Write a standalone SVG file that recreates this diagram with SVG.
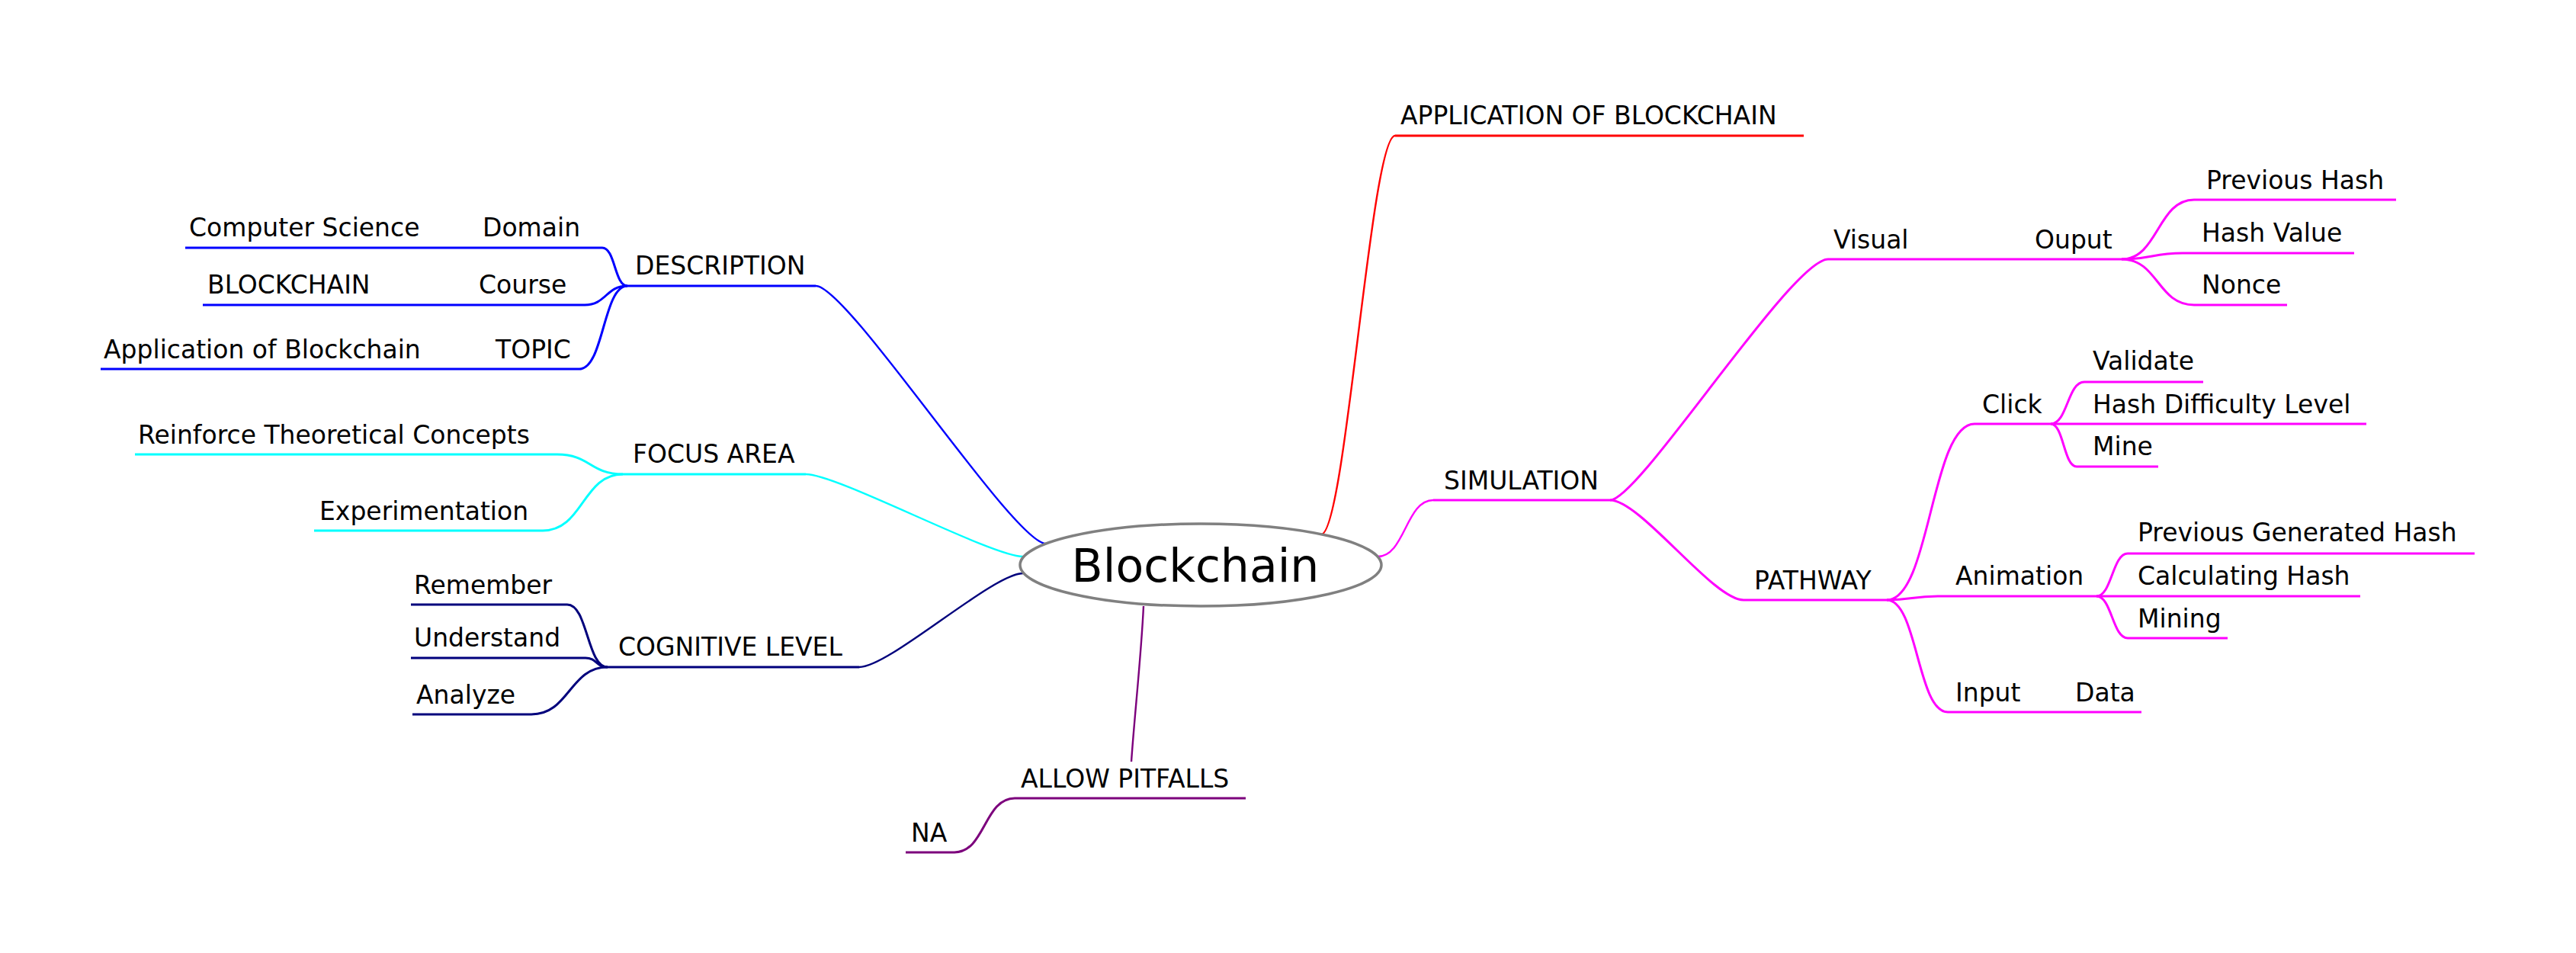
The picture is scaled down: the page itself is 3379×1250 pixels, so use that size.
<svg xmlns="http://www.w3.org/2000/svg" width="3379" height="1250" viewBox="0 0 3379 1250">
<style>
text{font-family:"DejaVu Sans","Noto Sans",sans-serif;font-size:33px;fill:#000}
.root{font-size:60px}
path{fill:none;stroke-linecap:butt}
.u{stroke-width:3}
.c{stroke-width:3}
.r{stroke-width:2.4}
.blue{stroke:#0000ff}
.cyan{stroke:#00ffff}
.navy{stroke:#00007c}
.purple{stroke:#7c007c}
.red{stroke:#ff0000}
.mag{stroke:#ff00ff}
</style>
<rect width="3379" height="1250" fill="#fff"/>
<g id="connectors">
<path class="r blue" d="M1070,375 C1112,375 1330,713 1372,713"/>
<path class="r cyan" d="M1057,622 C1099,622 1300,730 1342,730"/>
<path class="r navy" d="M1127,875 C1167,875 1302,752 1342,752"/>
<path class="r purple" stroke-width="2" d="M1500,795 C1497,860 1488,940 1484,999"/>
<path class="r red" d="M1733,701 C1765,701 1798,178 1830,178"/>
<path class="r mag" d="M1807,730 C1843,730 1844,656 1880,656"/>
<path class="c blue" d="M790,325 C807,325 806,375 823,375"/>
<path class="c blue" d="M767,400 C795,400 795,375 823,375"/>
<path class="c blue" d="M760,484 C792,484 791,375 823,375"/>
<path class="c cyan" d="M731,596 C774,596 774,622 817,622"/>
<path class="c cyan" d="M712,696 C765,696 764,622 817,622"/>
<path class="c navy" d="M744,793 C771,793 770,875 797,875"/>
<path class="c navy" d="M768,863 C783,863 782,875 797,875"/>
<path class="c navy" d="M697,937 C747,937 747,875 797,875"/>
<path class="c purple" d="M1252,1118 C1292,1118 1291,1047 1331,1047"/>
<path class="c mag" d="M2112,656 C2150,656 2350,340 2398,340"/>
<path class="c mag" d="M2112,656 C2152,656 2247,787 2287,787"/>
<path class="c mag" d="M2783,340 C2831,340 2830,262 2878,262"/>
<path class="c mag" d="M2783,340 C2823,340 2823,332 2863,332"/>
<path class="c mag" d="M2783,340 C2831,340 2830,400 2878,400"/>
<path class="c mag" d="M2475,787 C2532,787 2533,556 2590,556"/>
<path class="c mag" d="M2690,556 C2712,556 2712,501 2734,501"/>
<path class="c mag" d="M2690,556 C2707,556 2707,612 2724,612"/>
<path class="c mag" d="M2475,787 C2508,787 2508,782 2542,782"/>
<path class="c mag" d="M2750,782 C2770,782 2771,726 2791,726"/>
<path class="c mag" d="M2750,782 C2770,782 2771,837 2791,837"/>
<path class="c mag" d="M2475,787 C2515,787 2515,934 2555,934"/>
</g>
<g id="root">
<ellipse cx="1575" cy="741" rx="237" ry="54" fill="#fff" stroke="#808080" stroke-width="3.5"/>
<text class="root" x="1568" y="763" text-anchor="middle">Blockchain</text>
</g>
<g id="description"><path class="u blue" d="M823,375 H1070"/><text x="833" y="360">DESCRIPTION</text></g>
<g id="domain"><path class="u blue" d="M620,325 H790"/><text x="633" y="310">Domain</text></g>
<g id="computer-science"><path class="u blue" d="M243,325 H620"/><text x="248" y="310">Computer Science</text></g>
<g id="course"><path class="u blue" d="M615,400 H767"/><text x="628" y="385">Course</text></g>
<g id="blockchain-course"><path class="u blue" d="M266,400 H615"/><text x="272" y="385">BLOCKCHAIN</text></g>
<g id="topic"><path class="u blue" d="M640,484 H760"/><text x="650" y="470">TOPIC</text></g>
<g id="application-topic"><path class="u blue" d="M132,484 H640"/><text x="136" y="470">Application of Blockchain</text></g>
<g id="focus-area"><path class="u cyan" d="M817,622 H1057"/><text x="830" y="607">FOCUS AREA</text></g>
<g id="reinforce"><path class="u cyan" d="M177,596 H731"/><text x="181" y="582">Reinforce Theoretical Concepts</text></g>
<g id="experimentation"><path class="u cyan" d="M412,696 H712"/><text x="419" y="682">Experimentation</text></g>
<g id="cognitive-level"><path class="u navy" d="M797,875 H1127"/><text x="811" y="860">COGNITIVE LEVEL</text></g>
<g id="remember"><path class="u navy" d="M539,793 H744"/><text x="543" y="779">Remember</text></g>
<g id="understand"><path class="u navy" d="M539,863 H768"/><text x="543" y="848">Understand</text></g>
<g id="analyze"><path class="u navy" d="M541,937 H697"/><text x="546" y="923">Analyze</text></g>
<g id="allow-pitfalls"><path class="u purple" d="M1331,1047 H1634"/><text x="1339" y="1033">ALLOW PITFALLS</text></g>
<g id="na"><path class="u purple" d="M1188,1118 H1252"/><text x="1195" y="1104">NA</text></g>
<g id="application"><path class="u red" d="M1830,178 H2366"/><text x="1837" y="163">APPLICATION OF BLOCKCHAIN</text></g>
<g id="simulation"><path class="u mag" d="M1880,656 H2112"/><text x="1894" y="642">SIMULATION</text></g>
<g id="visual"><path class="u mag" d="M2398,340 H2660"/><text x="2405" y="326">Visual</text></g>
<g id="ouput"><path class="u mag" d="M2660,340 H2783"/><text x="2669" y="326">Ouput</text></g>
<g id="previous-hash"><path class="u mag" d="M2878,262 H3143"/><text x="2894" y="248">Previous Hash</text></g>
<g id="hash-value"><path class="u mag" d="M2863,332 H3088"/><text x="2888" y="317">Hash Value</text></g>
<g id="nonce"><path class="u mag" d="M2878,400 H3000"/><text x="2888" y="385">Nonce</text></g>
<g id="pathway"><path class="u mag" d="M2287,787 H2475"/><text x="2301" y="773">PATHWAY</text></g>
<g id="click"><path class="u mag" d="M2590,556 H2690"/><text x="2600" y="542">Click</text></g>
<g id="validate"><path class="u mag" d="M2734,501 H2890"/><text x="2745" y="485">Validate</text></g>
<g id="hash-difficulty"><path class="u mag" d="M2690,556 H3104"/><text x="2745" y="542">Hash Difficulty Level</text></g>
<g id="mine"><path class="u mag" d="M2724,612 H2831"/><text x="2745" y="597">Mine</text></g>
<g id="animation"><path class="u mag" d="M2542,782 H2750"/><text x="2565" y="767">Animation</text></g>
<g id="previous-generated-hash"><path class="u mag" d="M2791,726 H3246"/><text x="2804" y="710">Previous Generated Hash</text></g>
<g id="calculating-hash"><path class="u mag" d="M2750,782 H3096"/><text x="2804" y="767">Calculating Hash</text></g>
<g id="mining"><path class="u mag" d="M2791,837 H2922"/><text x="2804" y="823">Mining</text></g>
<g id="input"><path class="u mag" d="M2555,934 H2712"/><text x="2565" y="920">Input</text></g>
<g id="data"><path class="u mag" d="M2712,934 H2809"/><text x="2722" y="920">Data</text></g>
</svg>
